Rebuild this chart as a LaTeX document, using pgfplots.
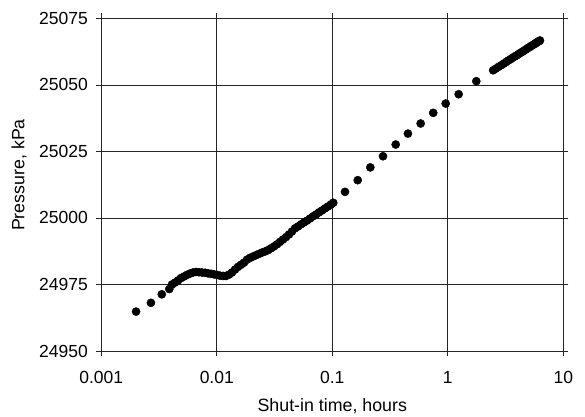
\documentclass[border=0pt]{standalone}
\usepackage{pgfplots}
\pgfplotsset{compat=1.18}
\usepackage{fontspec}
\setmainfont{Liberation Sans}
\begin{document}
\begin{tikzpicture}
\begin{axis}[
  scale only axis,
  width=462pt, height=332.6pt,
  xmode=log,
  xmin=0.001, xmax=10,
  ymin=24950, ymax=25075,
  xtick={0.001,0.01,0.1,1,10},
  xticklabels={0.001,0.01,0.1,1,10},
  xminorticks=false,
  ytick={24950,24975,25000,25025,25050,25075},
  scaled y ticks=false,
  yticklabel={\pgfmathprintnumber[fixed,precision=0,1000 sep={},assume math mode=true]{\tick}},
  grid=major,
  major grid style={black!85, line width=0.75pt},
  axis line style={black!85, line width=0.75pt},
  tick style={black!85, line width=0.75pt},
  tick align=outside,
  major tick length=5pt,
  tick label style={font=\fontsize{17.5}{20}\selectfont},
  xticklabel style={anchor=base, yshift=-28pt},
  yticklabel style={anchor=east, xshift=-5pt},
  label style={font=\fontsize{17.8}{20}\selectfont},
  xlabel={Shut-in time, hours},
  ylabel={Pressure, kPa},
  xlabel style={at={(axis description cs:0.5,0)}, anchor=base, yshift=-60.7pt},
  ylabel style={at={(axis description cs:-0.178,0.529)}, anchor=center},
]
\addplot[only marks, mark=*, mark size=4.1pt, black] coordinates {
(0.00200,24964.8) (0.00269,24968.1) (0.00334,24971.3) (0.00388,24973.3)
(0.004094,24975.0) (0.004346,24975.7) (0.004614,24976.5) (0.004898,24977.4)
(0.005200,24978.0) (0.005521,24978.6) (0.005861,24979.1) (0.006222,24979.5)
(0.006606,24979.7) (0.007013,24979.6) (0.007445,24979.5) (0.007904,24979.4)
(0.008391,24979.2) (0.008909,24979.0) (0.009458,24978.8) (0.01004,24978.6)
(0.01066,24978.3) (0.01132,24978.2) (0.01201,24978.2) (0.01276,24978.7)
(0.01354,24979.5) (0.01438,24980.6) (0.01526,24981.6) (0.01620,24982.4)
(0.01720,24983.2) (0.01826,24984.3) (0.01939,24985.0) (0.02058,24985.5)
(0.02185,24986.0) (0.02320,24986.5) (0.02463,24987.0) (0.02615,24987.4)
(0.02776,24987.9) (0.02947,24988.6) (0.03128,24989.3) (0.03321,24990.1)
(0.03526,24991.0) (0.03743,24991.9) (0.03973,24992.8) (0.04218,24993.8)
(0.04478,24994.9) (0.04754,24996.1) (0.05047,24996.8) (0.05358,24997.6)
(0.05689,24998.3) (0.06039,24999.0) (0.06411,24999.8) (0.06807,25000.6)
(0.07226,25001.3) (0.07671,25002.1) (0.08144,25002.8) (0.08647,25003.6)
(0.09180,25004.3) (0.09743,25005.1) (0.1020,25005.7)
(0.1288,25009.8) (0.166,25014.2) (0.2134,25019.0) (0.2748,25023.2)
(0.354,25027.6) (0.4517,25031.7) (0.582,25035.5) (0.748,25039.5)
(0.959,25043.0) (1.242,25046.5) (1.765,25051.4)
(2.47,25055.5) (2.6,25056.1) (2.75,25056.8) (2.9,25057.4) (3.05,25058.0)
(3.2,25058.6) (3.35,25059.2) (3.5,25059.7) (3.65,25060.2) (3.8,25060.7)
(3.95,25061.1) (4.1,25061.6) (4.25,25062.0) (4.4,25062.4) (4.55,25062.8)
(4.7,25063.2) (4.85,25063.6) (5.0,25064.0) (5.15,25064.3) (5.3,25064.7)
(5.45,25065.0) (5.6,25065.3) (5.75,25065.6) (5.9,25066.0) (6.05,25066.3)
(6.2,25066.5) (6.28,25066.7)
};
\end{axis}
\pgfresetboundingbox
\useasboundingbox ([shift={(-101.3pt,-65pt)}]current axis.south west) rectangle ([shift={(21.7pt,18.4pt)}]current axis.north east);
\end{tikzpicture}
\end{document}
